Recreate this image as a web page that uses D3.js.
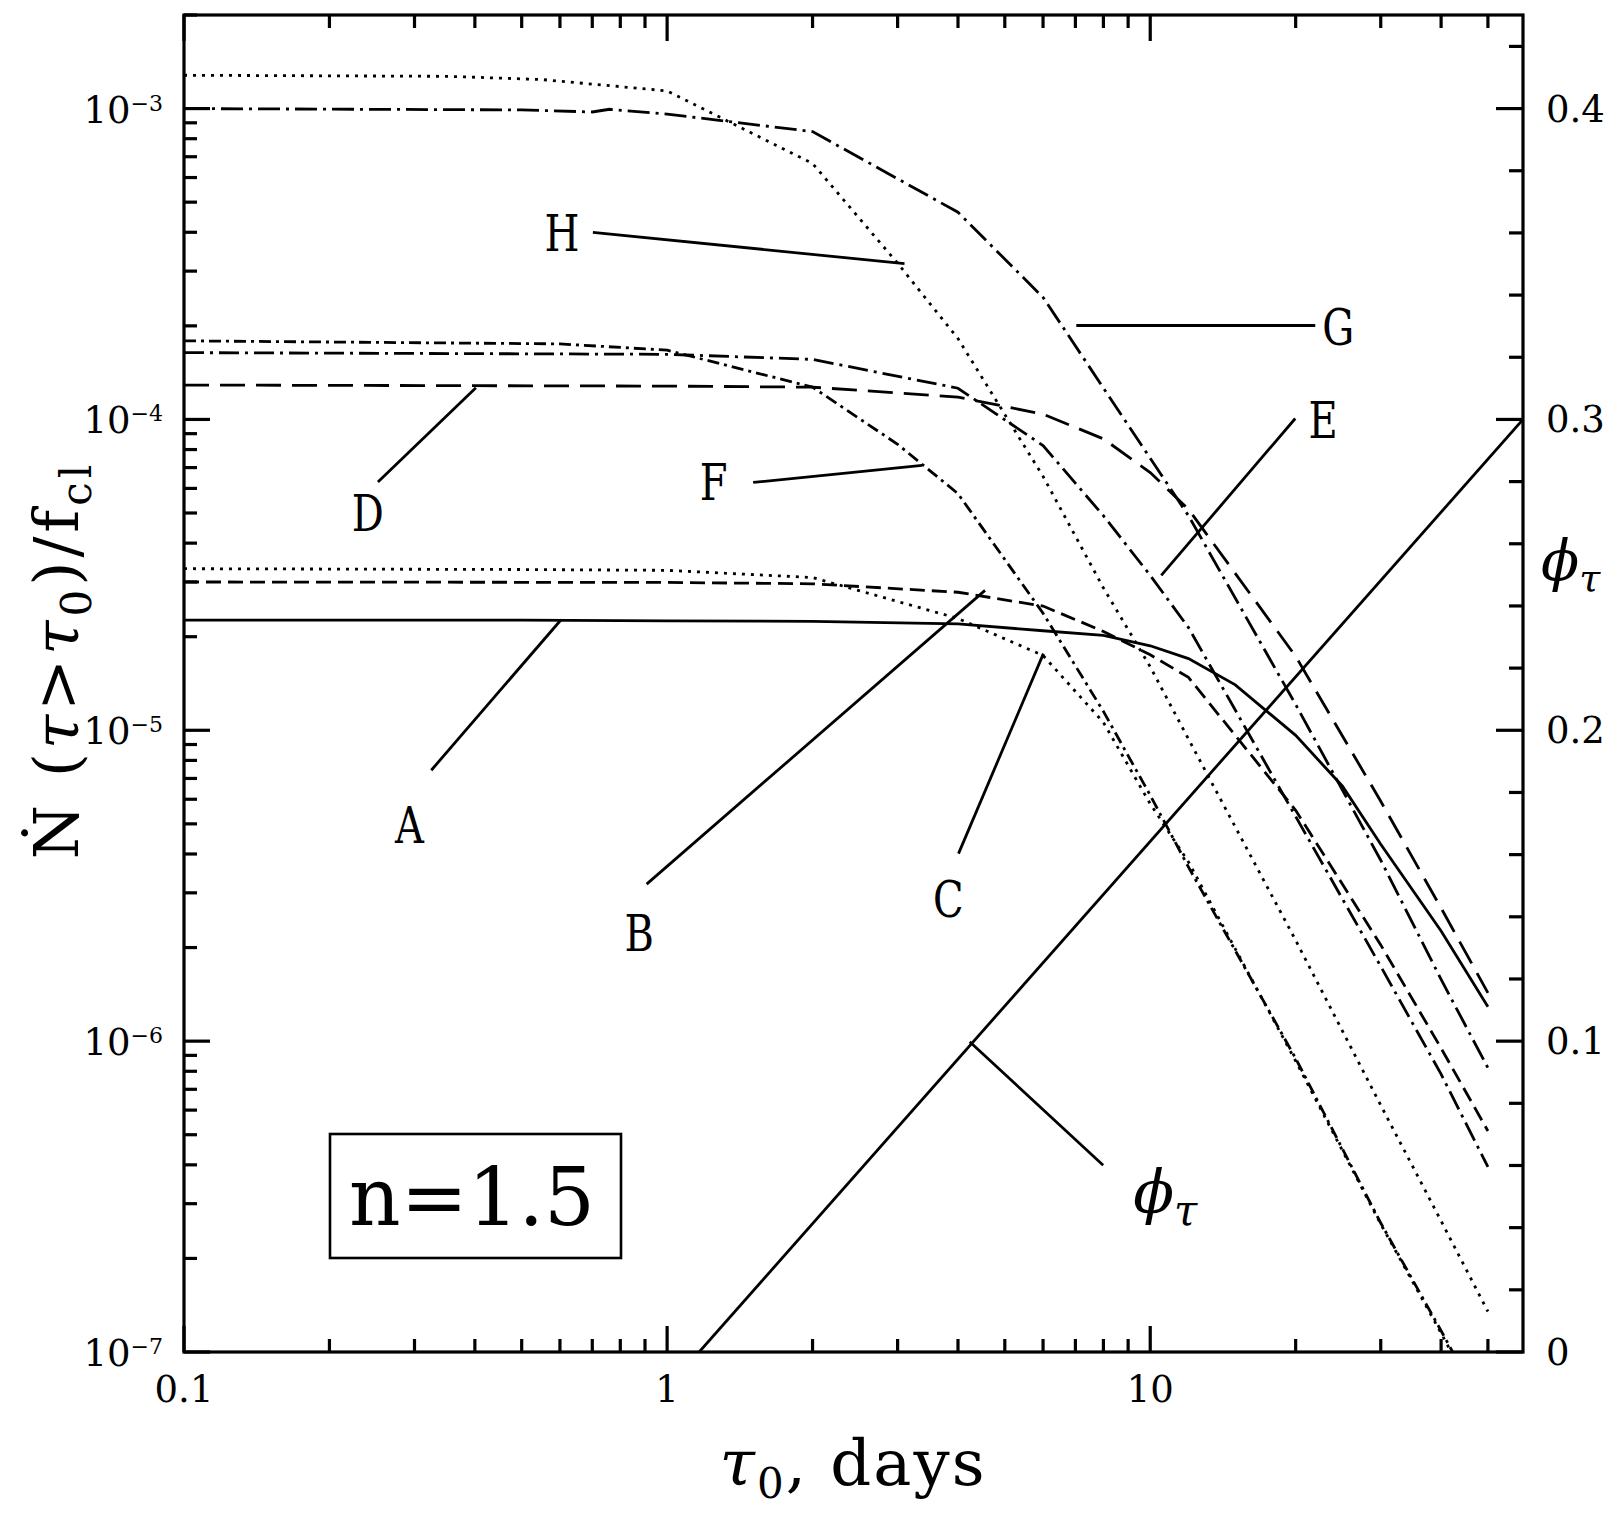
<!DOCTYPE html>
<html><head><meta charset="utf-8">
<script src="https://cdn.jsdelivr.net/npm/d3@7/dist/d3.min.js"></script>
<style>body{margin:0;background:#fff} svg{display:block}</style>
</head><body><svg id="c" width="1617" height="1517"></svg>
<script>
// ---------------- data ----------------
const curveNames = ["A","B","C","D","E","F","G","H"];
const tauA = [0.1, 0.5, 1, 2, 4, 6, 8, 10, 12, 15, 20, 25, 30, 40, 50];
const valA = [2.26e-5, 2.26e-5, 2.25e-5, 2.24e-5, 2.2e-5, 2.09e-5, 2.02e-5, 1.87e-5, 1.70e-5, 1.40e-5, 9.63e-6, 6.61e-6, 4.30e-6, 2.26e-6, 1.29e-6];
const tauB = [0.1, 1, 2, 4, 6, 8, 10, 12, 20, 30, 40, 50];
const valB = [3.0e-5, 2.99e-5, 2.96e-5, 2.78e-5, 2.51e-5, 2.08e-5, 1.75e-5, 1.48e-5, 5.53e-6, 2.04e-6, 9.49e-7, 5.14e-7];
const tauC = [0.1, 0.5, 1, 2, 4, 6, 8, 10, 12, 20, 30, 40, 50];
const valC = [3.31e-5, 3.29e-5, 3.27e-5, 3.1e-5, 2.29e-5, 1.74e-5, 1.06e-5, 5.8e-6, 3.77e-6, 8.63e-7, 2.58e-7, 1.15e-7, 6.0e-8];
const tauD = [0.1, 1, 2, 4, 6, 8, 10, 12, 20, 30, 40, 50];
const valD = [1.29e-4, 1.28e-4, 1.27e-4, 1.18e-4, 1.04e-4, 8.66e-5, 6.75e-5, 5.14e-5, 1.73e-5, 5.91e-6, 2.68e-6, 1.43e-6];
const tauE = [0.1, 1, 2, 4, 6, 8, 10, 12, 20, 30, 40, 50];
const valE = [1.64e-4, 1.62e-4, 1.56e-4, 1.26e-4, 8.24e-5, 4.9e-5, 3.15e-5, 2.14e-5, 5.28e-6, 1.74e-6, 7.83e-7, 3.94e-7];
const tauF = [0.1, 0.6, 1, 2, 3, 4, 6, 8, 10, 12, 20, 30, 40, 50];
const valF = [1.79e-4, 1.75e-4, 1.67e-4, 1.27e-4, 8.32e-5, 5.77e-5, 2.38e-5, 1.15e-5, 6.18e-6, 3.63e-6, 8.8e-7, 2.6e-7, 1.17e-7, 6.2e-8];
const tauG = [0.1, 0.5, 0.7, 0.76, 1, 2, 4, 6, 12, 20, 30, 40, 50];
const valG = [1.0e-3, 0.99e-3, 0.975e-3, 0.995e-3, 0.96e-3, 8.43e-4, 4.64e-4, 2.47e-4, 4.9e-5, 1.21e-5, 3.82e-6, 1.58e-6, 8.2e-7];
const tauH = [0.1, 0.35, 0.55, 1, 2, 3, 4, 6, 8, 10, 12, 20, 30, 40, 50];
const valH = [1.28e-3, 1.27e-3, 1.24e-3, 1.14e-3, 6.66e-4, 3.18e-4, 1.82e-4, 6.56e-5, 2.87e-5, 1.60e-5, 9.37e-6, 2.11e-6, 6.22e-7, 2.64e-7, 1.35e-7];
const phiTau = [1.165, 59.1];
const phiVal = [0, 0.3];

const xTickValues = [0.1, 1, 10];
const xTickLabels = ["0.1", "1", "10"];
const yTickValues = [1e-7, 1e-6, 1e-5, 1e-4, 1e-3];
const yTickExponents = ["−7", "−6", "−5", "−4", "−3"];
const phiTickValues = [0, 0.1, 0.2, 0.3, 0.4];
const phiTickLabels = ["0", "0.1", "0.2", "0.3", "0.4"];

// annotation anchors in data space: label centre, pointer start, pointer end
const labelText = ["A","B","C","D","E","F","G","H"];
const labelTau  = [0.293, 0.875, 3.82, 0.240, 22.8, 1.248, 24.5, 0.606];
const labelVal  = [4.95e-6, 2.23e-6, 2.86e-6, 5.0e-5, 9.96e-5, 6.27e-5, 1.99e-4, 3.99e-4];
const ptrTau1 = [0.325, 0.907, 4.01, 0.252, 10.54, 1.507, 7.03, 0.702];
const ptrVal1 = [7.44e-6, 3.2e-6, 4.01e-6, 6.29e-5, 3.15e-5, 6.27e-5, 2.005e-4, 4.0e-4];
const ptrTau2 = [0.602, 4.55, 6.01, 0.402, 19.96, 3.37, 21.96, 3.10];
const ptrVal2 = [2.26e-5, 2.82e-5, 1.764e-5, 1.265e-4, 1.007e-4, 7.11e-5, 2.005e-4, 3.17e-4];
const phiPtrTau = [4.23, 7.99];
const phiPtrVal = [0.0998, 0.0601];
const phiLabelTau = 9.22, phiLabelVal = 0.0447;

// ---------------- layout ----------------
const L = 184, R = 1523, T = 15, B = 1352;
const svg = d3.select("#c");
const x = d3.scaleLog().domain([0.1, 59.1]).range([L, R]);
const y = d3.scaleLog().domain([1e-7, 2e-3]).range([B, T]);
const yPhi = d3.scaleLinear().domain([0, 0.4]).range([B, y(1e-3)]);
const serif = "'DejaVu Serif', serif";

const styles = {
  A: {dash: null},
  B: {dash: "15,7"},
  C: {dash: "3,6"},
  D: {dash: "25,11"},
  E: {dash: "20,6,3,6"},
  F: {dash: "12,5,3,5"},
  G: {dash: "22,6,3,6"},
  H: {dash: "3,6"}
};
const seriesTau = {A: tauA, B: tauB, C: tauC, D: tauD, E: tauE, F: tauF, G: tauG, H: tauH};
const seriesVal = {A: valA, B: valB, C: valC, D: valD, E: valE, F: valF, G: valG, H: valH};

svg.append("clipPath").attr("id", "clip").append("rect")
  .attr("x", L).attr("y", T).attr("width", R - L).attr("height", B - T);

const plot = svg.append("g").attr("clip-path", "url(#clip)");
const line = d3.line().x(d => x(d[0])).y(d => y(d[1]));
curveNames.forEach(n => {
  const pts = seriesTau[n].map((t, i) => [t, seriesVal[n][i]]);
  plot.append("path").attr("d", line(pts)).attr("fill", "none")
    .attr("stroke", "#000").attr("stroke-width", 2.8)
    .attr("stroke-dasharray", styles[n].dash);
});
const phiLine = d3.line().x(d => x(d[0])).y(d => yPhi(d[1]));
plot.append("path").attr("d", phiLine(phiTau.map((t, i) => [t, phiVal[i]])))
  .attr("fill", "none").attr("stroke", "#000").attr("stroke-width", 2.8);

// pointers & labels
const ann = svg.append("g");
labelText.forEach((t, i) => {
  ann.append("line")
    .attr("x1", x(ptrTau1[i])).attr("y1", y(ptrVal1[i]))
    .attr("x2", x(ptrTau2[i])).attr("y2", y(ptrVal2[i]))
    .attr("stroke", "#000").attr("stroke-width", 2.8);
  const cx = x(labelTau[i]), cy = y(labelVal[i]);
  ann.append("text").text(t)
    .attr("transform", `translate(${cx},${cy + 18}) scale(0.8,1)`)
    .attr("text-anchor", "middle").attr("font-family", serif).attr("font-size", 50);
});
ann.append("line")
  .attr("x1", x(phiPtrTau[0])).attr("y1", yPhi(phiPtrVal[0]))
  .attr("x2", x(phiPtrTau[1])).attr("y2", yPhi(phiPtrVal[1]))
  .attr("stroke", "#000").attr("stroke-width", 2.8);
const phiT = ann.append("text").attr("x", x(phiLabelTau)).attr("y", yPhi(phiLabelVal))
  .attr("font-family", serif).attr("font-style", "italic").attr("font-size", 60);
phiT.append("tspan").text("ϕ");
phiT.append("tspan").text("τ").attr("font-size", 42).attr("dy", 12);

// n=1.5 box
svg.append("rect").attr("x", 330).attr("y", 1134).attr("width", 291).attr("height", 124)
  .attr("fill", "none").attr("stroke", "#000").attr("stroke-width", 2.6);
svg.append("text").text("n=1.5").attr("x", 472).attr("y", 1225)
  .attr("text-anchor", "middle").attr("font-family", serif).attr("font-size", 80)
  .attr("font-weight", 300);

// ---------------- axes ----------------
const ax = svg.append("g").attr("stroke", "#000").attr("stroke-width", 3.2);
ax.append("rect").attr("x", L).attr("y", T).attr("width", R - L).attr("height", B - T).attr("fill", "none");
const MAJ = 26, MIN = 13;
const xMinor = [];
[0.1, 1, 10].forEach(d => { for (let k = 2; k <= 9; k++) { const v = d * k; if (v <= 59.1) xMinor.push(v); } });
xTickValues.forEach(v => {
  ax.append("line").attr("x1", x(v)).attr("x2", x(v)).attr("y1", B).attr("y2", B - MAJ);
  ax.append("line").attr("x1", x(v)).attr("x2", x(v)).attr("y1", T).attr("y2", T + MAJ);
});
xMinor.forEach(v => {
  ax.append("line").attr("x1", x(v)).attr("x2", x(v)).attr("y1", B).attr("y2", B - MIN);
  ax.append("line").attr("x1", x(v)).attr("x2", x(v)).attr("y1", T).attr("y2", T + MIN);
});
const yMinor = [];
[1e-7, 1e-6, 1e-5, 1e-4, 1e-3].forEach(d => { for (let k = 2; k <= 9; k++) { const v = d * k; if (v <= 2e-3) yMinor.push(v); } });
yTickValues.forEach(v => ax.append("line").attr("x1", L).attr("x2", L + MAJ).attr("y1", y(v)).attr("y2", y(v)));
yMinor.forEach(v => ax.append("line").attr("x1", L).attr("x2", L + MIN).attr("y1", y(v)).attr("y2", y(v)));
d3.range(0, 0.43, 0.02).forEach(v => {
  const major = Math.abs(v * 10 - Math.round(v * 10)) < 1e-6;
  ax.append("line").attr("x1", R).attr("x2", R - (major ? MAJ + 1 : MIN + 1))
    .attr("y1", yPhi(v)).attr("y2", yPhi(v));
});

// tick labels
const lab = svg.append("g").attr("font-family", serif).attr("fill", "#000");
xTickValues.forEach((v, i) => {
  lab.append("text").text(xTickLabels[i]).attr("x", x(v)).attr("y", 1402)
    .attr("text-anchor", "middle").attr("font-size", 37);
});
yTickValues.forEach((v, i) => {
  const t = lab.append("text").attr("x", 163).attr("y", y(v) + 14)
    .attr("text-anchor", "end").attr("font-size", 37);
  t.append("tspan").text("10");
  t.append("tspan").text(yTickExponents[i]).attr("font-size", 22).attr("dy", -12);
});
phiTickValues.forEach((v, i) => {
  lab.append("text").text(phiTickLabels[i]).attr("x", 1546).attr("y", yPhi(v) + 13)
    .attr("font-size", 37);
});

// axis titles
const xt = lab.append("text").attr("x", 853).attr("y", 1485).attr("text-anchor", "middle")
  .attr("font-size", 64).attr("letter-spacing", 2);
xt.append("tspan").text("τ").attr("font-style", "italic");
xt.append("tspan").text("0").attr("font-size", 42).attr("dy", 13);
xt.append("tspan").text(",  days").attr("dy", -13);

const yt = lab.append("text").attr("transform", "translate(78,660) rotate(-90)")
  .attr("text-anchor", "middle").attr("font-size", 62).attr("letter-spacing", 4);
yt.append("tspan").text("Ṅ  (");
yt.append("tspan").text("τ").attr("font-style", "italic");
yt.append("tspan").text(">");
yt.append("tspan").text("τ").attr("font-style", "italic");
yt.append("tspan").text("0").attr("font-size", 42).attr("dy", 13);
yt.append("tspan").text(")/f").attr("dy", -13);
yt.append("tspan").text("cl").attr("font-size", 42).attr("dy", 13);

const rt = lab.append("text").attr("x", 1541).attr("y", 580).attr("font-size", 56).attr("font-style", "italic");
rt.append("tspan").text("ϕ");
rt.append("tspan").text("τ").attr("font-size", 38).attr("dy", 11);
</script></body></html>
